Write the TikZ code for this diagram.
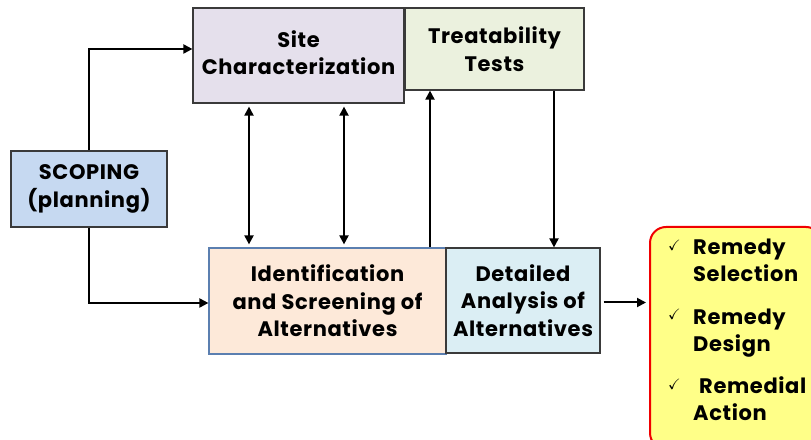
\documentclass[tikz,border=0pt]{standalone}
\usepackage{fontspec}
\usepackage{amssymb}
\setmainfont{Poppins}[LetterSpace=3]
\usetikzlibrary{arrows.meta}
\definecolor{scopefill}{HTML}{C6D9F1}
\definecolor{sitefill}{HTML}{E5E0EC}
\definecolor{treatfill}{HTML}{EBF1DE}
\definecolor{identfill}{HTML}{FDE9D9}
\definecolor{identline}{HTML}{5B7FB0}
\definecolor{detailfill}{HTML}{DBEEF4}
\definecolor{boxline}{HTML}{3A3A3A}
\definecolor{remfill}{HTML}{FFFF88}
\definecolor{remline}{HTML}{F00000}
\tikzset{
  x=1pt, y=1pt,
  stagebox/.style={draw=boxline, line width=1.2pt, align=center, inner sep=0pt,
    font=\bfseries\fontsize{21}{27.5}\selectfont},
  flow/.style={line width=2pt, -{Triangle[length=9pt,width=9pt]}},
  twoway/.style={line width=2pt, {Triangle[length=9pt,width=9pt]}-{Triangle[length=9pt,width=9pt]}},
}
\newcommand{\ck}{\makebox[25pt][l]{\raisebox{4pt}{\fontsize{15}{15}\selectfont$\checkmark$}}}
\begin{document}
\begin{tikzpicture}
\useasboundingbox (0,0) rectangle (811,439);
\begin{scope}
\clip (0,0) rectangle (811,439);
\node[draw=remline, line width=2pt, fill=remfill, rounded corners=16pt,
      minimum width=172pt, minimum height=222pt] (remedy) at (736,101) {};
\end{scope}
\node[stagebox, fill=scopefill, minimum width=156pt, minimum height=76pt] (scoping) at (89,250) {SCOPING\\(planning)};
\node[stagebox, fill=sitefill, minimum width=211pt, minimum height=95pt] (site) at (298.5,383.5)
  {\raisebox{5pt}{\begin{tabular}{@{}c@{}}Site\\Characterization\end{tabular}}};
\node[stagebox, fill=treatfill, minimum width=179pt, minimum height=82pt] (treat) at (494.5,390) {Treatability\\Tests};
\node[stagebox, draw=identline, fill=identfill, minimum width=237pt, minimum height=106pt] (ident) at (327.5,138) {Identification\\and Screening of\\Alternatives};
\node[stagebox, fill=detailfill, minimum width=154pt, minimum height=105pt] (detail) at (523,138.5) {Detailed\\Analysis of\\Alternatives};
% multi-line node: its base anchor sits on the last line
\node[anchor=base west, align=left, inner sep=0pt,
      font=\bfseries\fontsize{21}{27}\selectfont] (remlist) at (668,19)
  {\ck Remedy\\\hspace{25pt}Selection\\[15pt]
   \ck Remedy\\\hspace{25pt}Design\\[15pt]
   \ck\hspace{6pt}Remedial\\\hspace{25pt}Action};
\draw[flow] (scoping.north) |- ([yshift=6.5pt]site.west);
\draw[flow] (scoping.south) |- ([yshift=-2pt]ident.west);
\draw[twoway, shorten <=3pt, shorten >=3pt] ([xshift=-49.5pt]site.south) -- ([xshift=-49.5pt]site.south |- ident.north);
\draw[twoway, shorten <=3pt, shorten >=3pt] ([xshift=45.5pt]site.south) -- ([xshift=45.5pt]site.south |- ident.north);
\draw[flow] ([xshift=-64.5pt]treat.south |- ident.north) -- ([xshift=-64.5pt]treat.south);
\draw[flow] ([xshift=59.5pt]treat.south) -- ([xshift=59.5pt]treat.south |- detail.north);
\draw[flow, shorten <=3pt, shorten >=3pt] ([yshift=-2pt]detail.east) -- ([yshift=-2pt]detail.east -| remedy.west);
\end{tikzpicture}
\end{document}
